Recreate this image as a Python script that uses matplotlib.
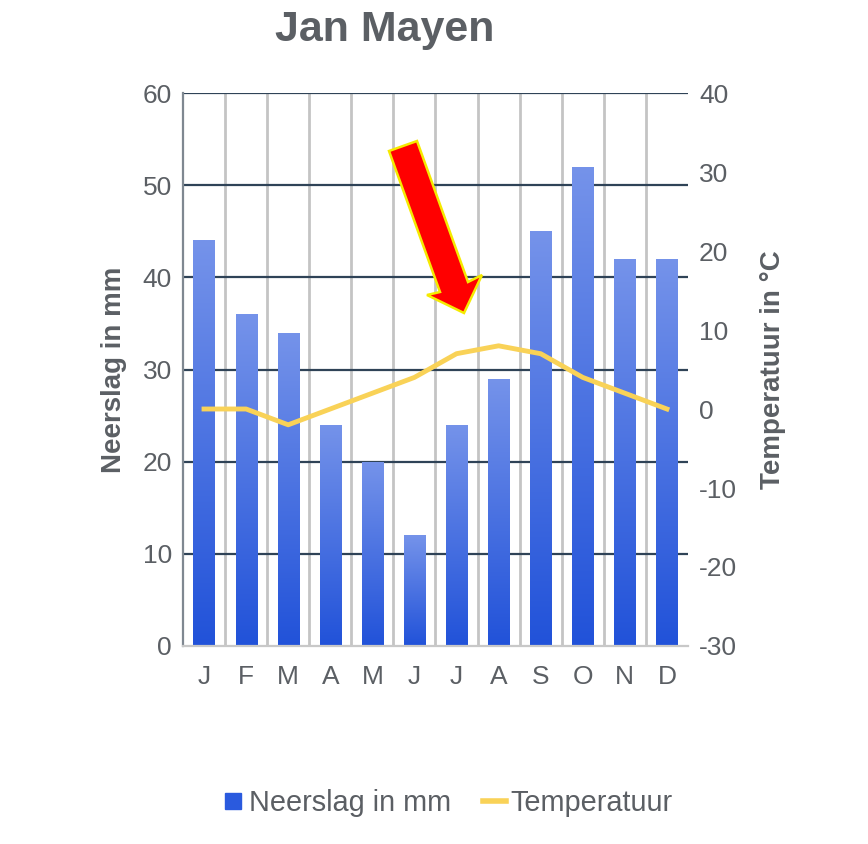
import numpy as np
import matplotlib
matplotlib.use('Agg')
import matplotlib.pyplot as plt
from matplotlib.lines import Line2D
from matplotlib.patches import Polygon
from matplotlib.colors import LinearSegmentedColormap

plt.rcParams['font.family'] = ['Liberation Sans', 'DejaVu Sans']
plt.rcParams['axes.unicode_minus'] = False

months = ['J', 'F', 'M', 'A', 'M', 'J', 'J', 'A', 'S', 'O', 'N', 'D']
neerslag = [44, 36, 34, 24, 20, 12, 24, 29, 45, 52, 42, 42]
temperatuur = [0, 0, -2, 0, 2, 4, 7, 8, 7, 4, 2, 0]

txt = '#5b5f64'
fig = plt.figure(figsize=(8.68, 8.44), dpi=100)
ax = fig.add_axes([0.2108, 0.2346, 0.5818, 0.6552])
ax2 = ax.twinx()

x = np.arange(len(months))
bars = ax.bar(x, neerslag, width=0.5, color='none', edgecolor='none', zorder=2)

# gradient in each bar: light on top, dark at the bottom
cmap = LinearSegmentedColormap.from_list('blauw', ['#2152d9', '#7593ea'])
grad = np.linspace(0, 1, 256).reshape(-1, 1)
for b in bars:
    x0, y0 = b.get_x(), b.get_y()
    im = ax.imshow(grad, extent=[x0, x0 + b.get_width(), y0, y0 + b.get_height()],
                   origin='lower', aspect='auto', cmap=cmap, zorder=2)
    im.set_clip_path(b)

ax.set_xlim(-0.5, 11.5)
ax.set_ylim(0, 60)
ax.set_yticks(range(0, 61, 10))
ax.set_xticks(x)
ax.set_xticklabels(months)
ax.set_xticks(np.arange(0.5, 11, 1), minor=True)
ax.set_axisbelow(True)
ax.grid(which='minor', axis='x', color='#c4c4c4', lw=2)
ax.grid(which='major', axis='y', color='#2f4357', lw=1.6)
ax.yaxis.get_gridlines()[0].set_visible(False)
ax.tick_params(which='both', length=0)
ax.tick_params(axis='y', labelsize=19, labelcolor=txt, pad=8)
ax.tick_params(axis='x', labelsize=19, labelcolor=txt, pad=14)
for s in ['top', 'right']:
    ax.spines[s].set_visible(False)
ax.spines['left'].set_color('#7f8891')
ax.spines['left'].set_linewidth(1.6)
ax.spines['bottom'].set_color('#c8c8c8')
ax.spines['bottom'].set_linewidth(1.6)
ax.set_ylabel('Neerslag in mm', fontsize=20, fontweight='bold', color=txt)
ax.yaxis.set_label_coords(-0.111, 0.5)

ax2.plot(x, temperatuur, color='#f9d257', lw=3.5, solid_joinstyle='round', zorder=3)
ax2.set_ylim(-30, 40)
ax2.set_yticks(range(-30, 41, 10))
ax2.tick_params(length=0, labelsize=19, labelcolor=txt, pad=8)
for s in ax2.spines.values():
    s.set_visible(False)
ax2.set_ylabel('Temperatuur in °C', fontsize=20, fontweight='bold', color=txt)
ax2.yaxis.set_label_coords(1.142, 0.5)

fig.text(385 / 868, 1 - 30 / 844, 'Jan Mayen', fontsize=31, fontweight='bold',
         color=txt, ha='center', va='center')

# red arrow pointing at the line
pts = [(389, 151), (417, 141), (468, 282), (482, 275), (464, 313), (427, 295), (440, 292)]
arrow = Polygon([(px / 868, 1 - py / 844) for px, py in pts], closed=True,
                transform=fig.transFigure, facecolor='#ff0000', edgecolor='#f5ea00',
                lw=1.8, zorder=10)
fig.add_artist(arrow)

handles = [Line2D([], [], marker='s', ls='none', color='#2a5ade', markersize=12),
           Line2D([], [], color='#f9d257', lw=4)]
fig.legend(handles, ['Neerslag in mm', 'Temperatuur'], loc='center',
           bbox_to_anchor=(0.515, 1 - 803 / 844), ncol=2, frameon=False,
           fontsize=20.8, labelcolor=txt, handlelength=0.8, handletextpad=0.15,
           columnspacing=1.1)

fig.savefig('out.png', dpi=100)
